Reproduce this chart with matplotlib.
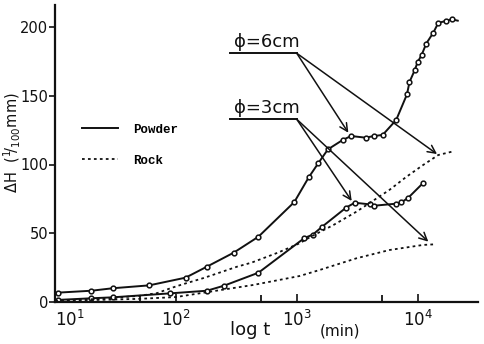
import matplotlib.pyplot as plt
import matplotlib.ticker as mticker

plt.rcParams['font.family'] = ['Liberation Sans Narrow', 'DejaVu Sans Condensed',
                               'DejaVu Sans']

# consolidation of powder and rock samples, two diameters
p6_t = [10.5, 20, 30, 60, 120, 180, 300, 480, 950, 1250, 1500, 1800, 2400, 2800,
        3700, 4300, 5100, 6600, 8100, 8500, 9400, 9900, 10700, 11700, 13400,
        14700, 17000, 19000]
p6_H = [6.8, 8.2, 10, 12.1, 17.7, 25.7, 35.9, 47.5, 72.7, 90.7, 101, 111, 118,
        120.7, 119.5, 120.7, 121.5, 132.4, 151, 160, 168.7, 174.3, 179.6, 188,
        196, 203, 204.4, 205.6]
p6_end_t, p6_end_H = 21300, 204.6

p3_t = [10.5, 20, 30, 90, 180, 250, 480, 1150, 1350, 1600, 2550, 3000, 4000,
        4300, 6600, 7300, 8300, 11000]
p3_H = [1.5, 2.7, 3.4, 6.3, 8.2, 11.9, 21.3, 46.5, 49, 54.5, 68.7, 72.2, 71,
        70, 71.5, 72.5, 75.8, 86.5]

r6_t = [10, 20, 30, 50, 70, 90, 110, 170, 320, 420, 700, 1050, 1300, 2000,
        3100, 5800, 8000, 11000, 14700, 19000]
r6_H = [1, 2, 3, 4.5, 6.5, 10, 12.5, 17.5, 25.7, 28.6, 36, 42.7, 47.5, 56,
        65.7, 81.5, 91, 99.6, 106.9, 109.3]

r3_t = [10, 20, 50, 100, 170, 435, 1050, 1540, 3100, 5800, 11000, 14100]
r3_H = [0.8, 1.4, 2.3, 3.6, 6.8, 12.4, 18.9, 23.3, 31.8, 37.8, 41.5, 42]

x_ticks = [10, 100, 1000, 10000]
x_labels = [r'$10^{1}$', r'$10^{2}$', r'$10^{3}$', r'$10^{4}$']
y_ticks = [0, 50, 100, 150, 200]

ink = '#111111'

fig = plt.figure(figsize=(4.84, 3.44), dpi=100)
ax = fig.add_axes([55 / 484, 42 / 344, 423 / 484, 297 / 344])

# solid = powder, dotted = rock
ax.plot(p6_t + [p6_end_t], p6_H + [p6_end_H], color=ink, lw=1.4, label='Powder')
ax.plot(p3_t, p3_H, color=ink, lw=1.4)
ax.plot(p6_t, p6_H, 'o', ms=3.4, mfc='white', mec=ink, mew=1.1)
ax.plot(p3_t, p3_H, 'o', ms=3.4, mfc='white', mec=ink, mew=1.1)
ax.plot(r6_t, r6_H, color=ink, lw=1.3, ls=(0, (1.5, 1.8)), label='Rock')
ax.plot(r3_t, r3_H, color=ink, lw=1.3, ls=(0, (1.5, 1.8)))

# diameter labels with leader arrows
for label, y_line, tips in [('ϕ=6cm', 180.9, [(2655, 123.1), (14350, 107.6)]),
                            ('ϕ=3cm', 132.9, [(2830, 73.5), (12160, 43.9)])]:
    ax.plot([279, 995], [y_line, y_line], color=ink, lw=1.4)
    ax.text(300, y_line + 2, label, fontsize=13, color=ink, ha='left', va='bottom',
            family=['DejaVu Sans'])
    for tip in tips:
        ax.annotate('', xy=tip, xytext=(995, y_line),
                    arrowprops=dict(arrowstyle='->', color=ink, lw=1.1,
                                    mutation_scale=14, shrinkA=0, shrinkB=0))

ax.set_xscale('log')
ax.set_xlim(10, 31300)
ax.set_ylim(0, 216)

ax.set_xticks(x_ticks, labels=x_labels)
ax.xaxis.set_minor_locator(mticker.FixedLocator([50, 500, 5000]))
ax.xaxis.set_minor_formatter(mticker.NullFormatter())
ax.set_yticks(y_ticks)

ax.tick_params(axis='x', which='major', direction='in', length=6, width=1.2,
               labelsize=12, pad=6, colors=ink)
ax.tick_params(axis='x', which='minor', direction='in', length=5, width=1.2)
ax.tick_params(axis='y', direction='out', length=4, width=1.2, labelsize=10.5,
               pad=1, colors=ink)

for side in ['top', 'right']:
    ax.spines[side].set_visible(False)
for side in ['left', 'bottom']:
    ax.spines[side].set_linewidth(1.6)
    ax.spines[side].set_color(ink)

# first decade label sits right of the corner
ax.get_xticklabels()[0].set_horizontalalignment('left')

fig.text(12 / 484, 1 - 143 / 344, r'$\Delta$H  ($^{1}\!/_{100}$mm)', rotation=90,
         ha='center', va='center', fontsize=10.5, color=ink, family=['DejaVu Sans'])
fig.text(230 / 484, 1 - 330 / 344, 'log t', fontsize=13, color=ink,
         ha='left', va='center', family=['DejaVu Sans'])
fig.text(320 / 484, 1 - 331 / 344, '(min)', fontsize=11, color=ink,
         ha='left', va='center', family=['DejaVu Sans'])

ax.legend(loc='upper left', bbox_to_anchor=(0.064, 0.60), frameon=False,
          borderpad=0, borderaxespad=0, handlelength=2.9, handletextpad=1.2,
          labelspacing=1.5, prop={'family': 'Liberation Mono', 'weight': 'bold',
                                  'size': 9})

fig.savefig('out.png', dpi=100)
